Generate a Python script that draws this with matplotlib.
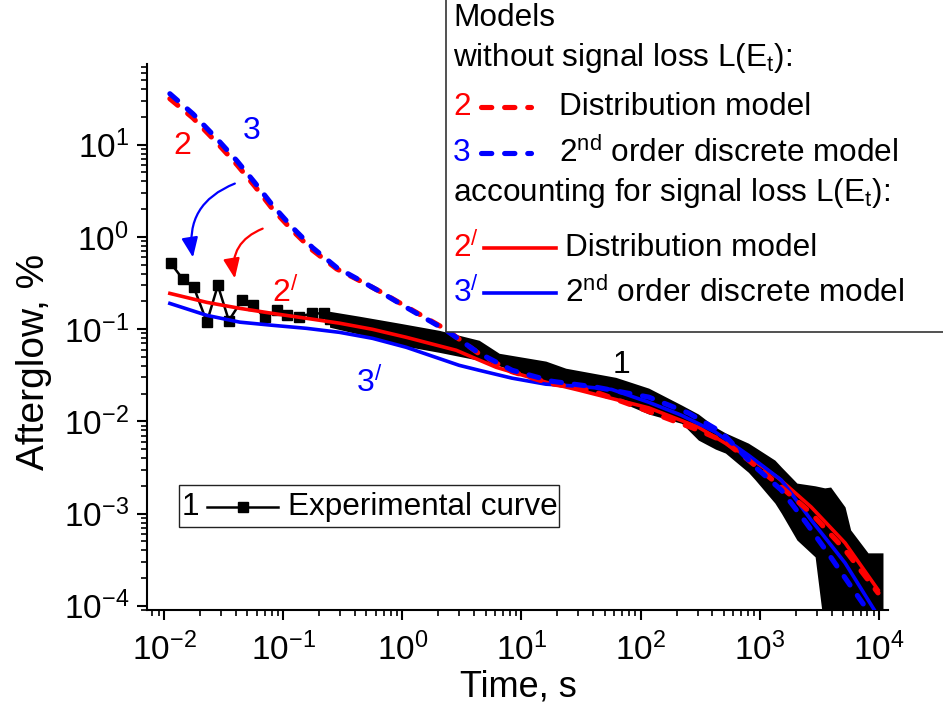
import matplotlib
matplotlib.use('Agg')
import matplotlib.pyplot as plt
from matplotlib.lines import Line2D
from matplotlib.patches import Rectangle
from matplotlib.ticker import LogLocator, NullFormatter

plt.rcParams['font.family'] = ['Liberation Sans', 'DejaVu Sans']
plt.rcParams['mathtext.fontset'] = 'custom'
plt.rcParams['mathtext.rm'] = 'Liberation Sans'
plt.rcParams['mathtext.it'] = 'Liberation Sans:italic'
plt.rcParams['mathtext.bf'] = 'Liberation Sans:bold'
plt.rcParams['mathtext.sf'] = 'Liberation Sans'

# ---------------- data ----------------
# curve 3: 2nd order discrete model, no signal loss (blue dashed)
t_3 = [0.0112, 0.0175, 0.0278, 0.0408, 0.0578, 0.0817, 0.120, 0.176, 0.281, 0.412,
       0.643, 1.08, 2.33, 4.41, 8.33, 18.0, 42.0, 117, 252, 476, 917, 1514, 2404,
       3743, 5503, 7640]
a_3 = [35.7, 21.6, 11.6, 6.71, 3.88, 2.19, 1.26, 0.767, 0.466, 0.355,
       0.257, 0.172, 0.097, 0.0547, 0.0358, 0.0272, 0.0235, 0.0183, 0.0123, 0.00764,
       0.00319, 0.0018, 0.00082, 0.00037, 0.00018, 0.000098]

# curve 2: distribution model, no signal loss (red dashed)
t_2 = [0.0112, 0.0175, 0.0278, 0.0408, 0.0578, 0.0817, 0.120, 0.176, 0.281, 0.412,
       0.643, 1.08, 2.33, 4.41, 8.33, 18.0, 28.6, 44.6, 84.2, 182, 305, 514, 802,
       1514, 2692, 5188, 9813]
a_2 = [31.5, 19.5, 10.5, 6.1, 3.55, 2.0, 1.17, 0.72, 0.45, 0.35,
       0.258, 0.175, 0.099, 0.054, 0.0345, 0.0255, 0.0234, 0.0202, 0.0150, 0.0103,
       0.00803, 0.00596, 0.0038, 0.00194, 0.00101, 0.000403, 0.000138]

# curve 2': distribution model with signal loss (red solid)
t_2p = [0.0112, 0.0229, 0.0433, 0.0817, 0.157, 0.297, 0.561, 1.08, 2.83, 6.12,
        16.0, 30.3, 117, 305, 802, 1429, 2692, 5188, 9813]
a_2p = [0.244, 0.195, 0.168, 0.148, 0.131, 0.116, 0.0996, 0.0815, 0.059, 0.0386,
        0.0266, 0.0218, 0.0140, 0.00865, 0.0041, 0.00243, 0.00118, 0.000481, 0.000149]

# curve 3': 2nd order discrete model with signal loss (blue solid)
t_3p = [0.0112, 0.0229, 0.0433, 0.0817, 0.157, 0.297, 0.561, 1.08, 3.0, 4.41,
        8.33, 16.0, 30.3, 57, 117, 218, 424, 802, 1514, 2692, 5188, 9090]
a_3p = [0.190, 0.141, 0.119, 0.110, 0.102, 0.0923, 0.0795, 0.0635, 0.0405, 0.0358,
        0.0294, 0.0253, 0.0240, 0.0222, 0.0161, 0.0117, 0.00764, 0.0043, 0.00231,
        0.000853, 0.000292, 0.0000911]

# curve 1: experimental, sparse early points
t_exp = [0.01146, 0.01443, 0.01782, 0.0229, 0.0283, 0.035, 0.045, 0.0556, 0.070,
         0.0883, 0.107, 0.137, 0.176, 0.222, 0.245]
a_exp = [0.515, 0.346, 0.283, 0.119, 0.298, 0.124, 0.205, 0.181, 0.134,
         0.160, 0.141, 0.137, 0.148, 0.148, 0.13]

# curve 1: experimental, dense noisy part (upper / lower envelope)
t_band = [0.245, 0.436, 0.944, 2.04, 4.41, 6.5, 16.0, 23.5, 61.8, 117, 221, 305,
          424, 514, 802, 917, 1337, 1514, 2047, 2911, 3502, 3926, 5188, 5780,
          8086, 10800]
a_hi = [0.156, 0.138, 0.116, 0.097, 0.0757, 0.0547, 0.045, 0.0377, 0.030, 0.0229,
        0.0150, 0.0120, 0.00865, 0.0075, 0.0058, 0.0052, 0.0038, 0.0032, 0.00214,
        0.0020, 0.0019, 0.00194, 0.00118, 0.000665, 0.000375, 0.000375]
a_lo = [0.105, 0.088, 0.067, 0.056, 0.0459, 0.040, 0.027, 0.0235, 0.017, 0.0120,
        0.0095, 0.00626, 0.0050, 0.00453, 0.0028, 0.00231, 0.0013, 0.00101, 0.000517,
        0.000339, 0.00005, 0.00005, 0.00005, 0.00005, 0.00005, 0.00005]

x_major = [1e-2, 1e-1, 1e0, 1e1, 1e2, 1e3, 1e4]
y_major = [1e-4, 1e-3, 1e-2, 1e-1, 1e0, 1e1]

RED = '#ff0000'
BLUE = '#0000ff'
W, H = 943, 713


def fx(x):
    return x / W


def fy(y):
    return 1 - y / H


fig = plt.figure(figsize=(W / 100, H / 100), dpi=100)
ax = fig.add_axes([147 / W, 1 - 610 / H, (888 - 147) / W, (610 - 64) / H])
ax.set_xscale('log')
ax.set_yscale('log')
ax.set_xlim(0.0072, 1.19e4)
ax.set_ylim(9.0e-5, 75)

dash = (0, (2.0, 2.5))
ax.fill_between(t_band, a_lo, a_hi, color='black', lw=0, zorder=2)
ax.plot(t_exp, a_exp, color='black', lw=1.8, marker='s', ms=7.8, zorder=3)
ax.plot(t_2p, a_2p, color=RED, lw=2.6, zorder=4)
ax.plot(t_3p, a_3p, color=BLUE, lw=2.6, zorder=5)
ax.plot(t_2, a_2, color=RED, lw=3.7, ls=dash, dash_capstyle='round', zorder=6)
ax.plot(t_3, a_3, color=BLUE, lw=3.7, ls=dash, dash_capstyle='round', zorder=7)

# curve labels
ax.text(0.01416, 9.75, '2', color=RED, fontsize=23, ha='center', va='center')
ax.text(0.0544, 14.2, '3', color=BLUE, fontsize=23, ha='center', va='center')
ax.text(0.103, 0.244, r'2$^{/}$', color=RED, fontsize=23, ha='center', va='center')
ax.text(0.53, 0.0259, r'3$^{/}$', color=BLUE, fontsize=23, ha='center', va='center')
ax.text(69.3, 0.0406, '1', color='black', fontsize=23, ha='center', va='center')

# arrows
ax.annotate('', xy=(0.0175, 0.599), xytext=(0.0393, 3.79),
            arrowprops=dict(arrowstyle='-|>,head_length=0.6,head_width=0.25',
                            color=BLUE, lw=1.6,
                            connectionstyle='arc3,rad=0.4',
                            mutation_scale=20, shrinkA=0, shrinkB=0))
ax.annotate('', xy=(0.0393, 0.355), xytext=(0.0673, 1.23),
            arrowprops=dict(arrowstyle='-|>,head_length=0.6,head_width=0.25',
                            color=RED, lw=1.6,
                            connectionstyle='arc3,rad=0.4',
                            mutation_scale=20, shrinkA=0, shrinkB=0))

# axes style
for s in ['top', 'right']:
    ax.spines[s].set_visible(False)
for s in ['left', 'bottom']:
    ax.spines[s].set_linewidth(1.5)
ax.set_xticks(x_major)
ax.set_yticks(y_major)
for axis in (ax.xaxis, ax.yaxis):
    axis.set_minor_locator(LogLocator(base=10, subs=range(2, 10), numticks=200))
    axis.set_minor_formatter(NullFormatter())
ax.tick_params(which='major', direction='out', length=7, width=1.5, labelsize=24)
ax.tick_params(axis='x', which='major', pad=9)
ax.tick_params(axis='y', which='major', pad=6)
ax.tick_params(which='minor', direction='out', length=4, width=1.2)

ax.set_xlabel('Time, s', fontsize=26)
ax.set_ylabel('Afterglow, %', fontsize=28)
ax.xaxis.set_label_coords((518 - 147) / 741, (610 - 687) / 546)
ax.xaxis.label.set_va('center')
ax.yaxis.set_label_coords((34 - 147) / 741, (610 - 362) / 546)
ax.yaxis.label.set_va('center')

# ---- legend (top right) ----
fs_leg = 22.7
fig.add_artist(Rectangle((fx(446), fy(332)), 1.0, 332 / H + 0.01,
                         transform=fig.transFigure, facecolor='white',
                         edgecolor='#333333', lw=1.2, zorder=10))
fig.text(fx(453), fy(18), 'Models', fontsize=fs_leg, va='center', ha='left', zorder=11)
fig.text(fx(453), fy(58), r'without signal loss L(E$_\mathrm{t}$):', fontsize=fs_leg,
         va='center', ha='left', zorder=11)
fig.text(fx(453), fy(107), '2', color=RED, fontsize=fs_leg, va='center', ha='left', zorder=11)
fig.text(fx(453), fy(153), '3', color=BLUE, fontsize=fs_leg, va='center', ha='left', zorder=11)
for yy, col in ((107, RED), (153, BLUE)):
    fig.add_artist(Line2D([fx(481), fx(531)], [fy(yy), fy(yy)], transform=fig.transFigure,
                          color=col, lw=3.7, ls=dash, dash_capstyle='round', zorder=11))
fig.text(fx(559), fy(107), 'Distribution model', fontsize=fs_leg, va='center', ha='left', zorder=11)
fig.text(fx(559), fy(153), r'2$^{\mathrm{nd}}$ order discrete model', fontsize=fs_leg,
         va='center', ha='left', zorder=11)
fig.text(fx(453), fy(193), r'accounting for signal loss L(E$_\mathrm{t}$):', fontsize=fs_leg,
         va='center', ha='left', zorder=11)
fig.text(fx(453), fy(248), r'2$^{/}$', color=RED, fontsize=fs_leg, va='center', ha='left', zorder=11)
fig.text(fx(453), fy(293), r'3$^{/}$', color=BLUE, fontsize=fs_leg, va='center', ha='left', zorder=11)
for yy, col in ((248, RED), (293, BLUE)):
    fig.add_artist(Line2D([fx(484), fx(556)], [fy(yy), fy(yy)], transform=fig.transFigure,
                          color=col, lw=2.6, zorder=11))
fig.text(fx(565), fy(248), 'Distribution model', fontsize=fs_leg, va='center', ha='left', zorder=11)
fig.text(fx(565), fy(293), r'2$^{\mathrm{nd}}$ order discrete model', fontsize=fs_leg,
         va='center', ha='left', zorder=11)

# ---- legend (bottom left) ----
fig.add_artist(Rectangle((fx(179), fy(527)), (559 - 179) / W, 42 / H,
                         transform=fig.transFigure, facecolor='white',
                         edgecolor='#222222', lw=1.0, zorder=10))
fig.text(fx(182), fy(507), '1', fontsize=fs_leg, va='center', ha='left', zorder=11)
fig.add_artist(Line2D([fx(207), fx(278)], [fy(507), fy(507)], transform=fig.transFigure,
                      color='black', lw=1.8, zorder=11))
fig.add_artist(Line2D([fx(243)], [fy(507)], transform=fig.transFigure,
                      color='black', marker='s', ms=7.8, zorder=12))
fig.text(fx(288), fy(507), 'Experimental curve', fontsize=fs_leg, va='center', ha='left', zorder=11)

fig.savefig('out.png', dpi=100)
